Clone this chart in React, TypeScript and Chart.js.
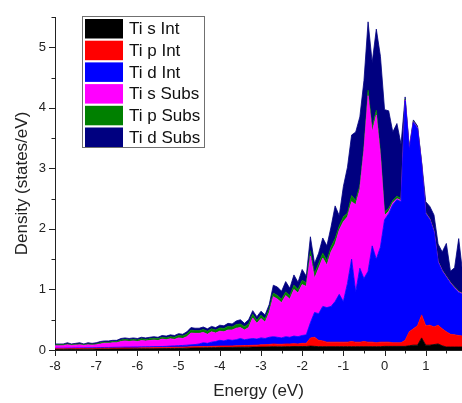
import React, { useEffect, useRef } from "react";
import { Chart, registerables } from "chart.js";

Chart.register(...registerables);

const energies = [
  -8.0, -7.9, -7.8, -7.7, -7.6, -7.5, -7.4, -7.3, -7.2, -7.1,
  -7.0, -6.9, -6.8, -6.7, -6.6, -6.5, -6.4, -6.3, -6.2, -6.1,
  -6.0, -5.9, -5.8, -5.7, -5.6, -5.5, -5.4, -5.3, -5.2, -5.1,
  -5.0, -4.9, -4.8, -4.7, -4.6, -4.5, -4.4, -4.3, -4.2, -4.1,
  -4.0, -3.9, -3.8, -3.7, -3.6, -3.5, -3.4, -3.3, -3.2, -3.1,
  -3.0, -2.9, -2.8, -2.7, -2.6, -2.5, -2.4, -2.3, -2.2, -2.1,
  -2.0, -1.9, -1.8, -1.7, -1.6, -1.5, -1.4, -1.3, -1.2, -1.1,
  -1.0, -0.9, -0.8, -0.7, -0.6, -0.5, -0.4, -0.3, -0.2, -0.1,
  0.0, 0.1, 0.2, 0.3, 0.4, 0.5, 0.6, 0.7, 0.8, 0.9,
  1.0, 1.1, 1.2, 1.3, 1.4, 1.5, 1.6, 1.7, 1.8, 1.9,
];

const tiSInt = [
  0.010, 0.010, 0.010, 0.012, 0.012, 0.012, 0.012, 0.014, 0.014, 0.014,
  0.015, 0.015, 0.016, 0.016, 0.017, 0.017, 0.018, 0.018, 0.018, 0.019,
  0.019, 0.020, 0.020, 0.020, 0.021, 0.022, 0.023, 0.024, 0.025, 0.026,
  0.027, 0.028, 0.030, 0.032, 0.034, 0.035, 0.036, 0.037, 0.038, 0.039,
  0.040, 0.041, 0.042, 0.043, 0.045, 0.046, 0.046, 0.047, 0.048, 0.048,
  0.050, 0.050, 0.052, 0.055, 0.053, 0.052, 0.055, 0.055, 0.058, 0.056,
  0.058, 0.058, 0.065, 0.060, 0.055, 0.055, 0.055, 0.055, 0.055, 0.055,
  0.055, 0.055, 0.055, 0.055, 0.055, 0.055, 0.055, 0.055, 0.055, 0.055,
  0.060, 0.060, 0.060, 0.060, 0.060, 0.060, 0.070, 0.080, 0.080, 0.200,
  0.080, 0.080, 0.090, 0.100, 0.070, 0.050, 0.050, 0.050, 0.050, 0.050,
];

const tiPInt = [
  0.010, 0.010, 0.010, 0.010, 0.010, 0.012, 0.012, 0.011, 0.012, 0.012,
  0.013, 0.013, 0.014, 0.014, 0.014, 0.015, 0.015, 0.016, 0.016, 0.016,
  0.016, 0.016, 0.017, 0.018, 0.019, 0.018, 0.018, 0.018, 0.019, 0.019,
  0.019, 0.019, 0.019, 0.020, 0.021, 0.021, 0.021, 0.021, 0.022, 0.023,
  0.025, 0.025, 0.025, 0.025, 0.025, 0.026, 0.027, 0.028, 0.030, 0.032,
  0.035, 0.038, 0.040, 0.045, 0.042, 0.043, 0.045, 0.045, 0.047, 0.044,
  0.052, 0.052, 0.135, 0.150, 0.105, 0.095, 0.075, 0.075, 0.075, 0.075,
  0.075, 0.075, 0.085, 0.075, 0.075, 0.085, 0.075, 0.075, 0.065, 0.075,
  0.070, 0.070, 0.060, 0.060, 0.060, 0.100, 0.230, 0.270, 0.320, 0.380,
  0.320, 0.330, 0.290, 0.310, 0.280, 0.250, 0.210, 0.200, 0.190, 0.180,
];

const tiDInt = [
  0.010, 0.010, 0.010, 0.010, 0.010, 0.010, 0.010, 0.010, 0.010, 0.010,
  0.010, 0.012, 0.012, 0.012, 0.013, 0.013, 0.013, 0.014, 0.014, 0.015,
  0.015, 0.016, 0.016, 0.016, 0.016, 0.016, 0.017, 0.018, 0.021, 0.023,
  0.026, 0.028, 0.031, 0.033, 0.035, 0.044, 0.063, 0.052, 0.070, 0.078,
  0.095, 0.084, 0.103, 0.092, 0.100, 0.118, 0.097, 0.105, 0.112, 0.100,
  0.115, 0.102, 0.118, 0.120, 0.115, 0.105, 0.120, 0.110, 0.125, 0.120,
  0.130, 0.140, 0.250, 0.410, 0.440, 0.570, 0.570, 0.590, 0.670, 0.790,
  0.670, 0.970, 1.360, 0.830, 1.220, 1.040, 1.170, 1.590, 1.380, 1.570,
  2.020, 2.120, 2.280, 2.360, 2.330, 3.960, 3.000, 3.410, 3.260, 2.480,
  1.850, 1.740, 1.570, 1.040, 0.950, 0.900, 0.840, 0.770, 0.710, 0.690,
];

const tiSSubs = [
  0.040, 0.040, 0.042, 0.053, 0.043, 0.046, 0.051, 0.040, 0.049, 0.044,
  0.047, 0.060, 0.068, 0.068, 0.076, 0.075, 0.094, 0.102, 0.092, 0.100,
  0.090, 0.103, 0.097, 0.101, 0.109, 0.099, 0.122, 0.110, 0.120, 0.107,
  0.128, 0.115, 0.140, 0.195, 0.185, 0.175, 0.170, 0.150, 0.170, 0.140,
  0.150, 0.150, 0.160, 0.170, 0.190, 0.180, 0.160, 0.190, 0.340, 0.260,
  0.320, 0.270, 0.410, 0.660, 0.630, 0.580, 0.680, 0.630, 0.770, 0.720,
  0.840, 0.800, 1.100, 0.560, 0.750, 0.800, 0.700, 0.900, 0.950, 1.060,
  1.320, 1.100, 0.950, 1.440, 1.300, 2.120, 2.900, 1.880, 2.380, 1.500,
  0.070, 0.040, 0.030, 0.020, 0.020, 0.010, 0.010, 0.010, 0.010, 0.010,
  0.010, 0.010, 0.010, 0.010, 0.010, 0.010, 0.010, 0.010, 0.010, 0.010,
];

const tiPSubs = [
  0.015, 0.015, 0.016, 0.015, 0.013, 0.015, 0.015, 0.013, 0.015, 0.015,
  0.015, 0.020, 0.020, 0.020, 0.020, 0.020, 0.025, 0.025, 0.025, 0.025,
  0.025, 0.030, 0.025, 0.030, 0.030, 0.030, 0.030, 0.030, 0.035, 0.035,
  0.040, 0.040, 0.045, 0.050, 0.045, 0.045, 0.050, 0.050, 0.050, 0.050,
  0.055, 0.055, 0.060, 0.050, 0.060, 0.060, 0.055, 0.060, 0.060, 0.050,
  0.055, 0.055, 0.060, 0.060, 0.060, 0.060, 0.060, 0.060, 0.070, 0.060,
  0.070, 0.060, 0.090, 0.080, 0.080, 0.080, 0.080, 0.080, 0.090, 0.070,
  0.080, 0.060, 0.100, 0.070, 0.070, 0.060, 0.090, 0.080, 0.080, 0.070,
  0.060, 0.050, 0.040, 0.040, 0.030, 0.010, 0.010, 0.010, 0.010, 0.010,
  0.010, 0.010, 0.010, 0.010, 0.010, 0.010, 0.010, 0.010, 0.010, 0.010,
];

const tiDSubs = [
  0.015, 0.015, 0.012, 0.020, 0.012, 0.015, 0.020, 0.012, 0.020, 0.015,
  0.020, 0.020, 0.020, 0.020, 0.020, 0.020, 0.025, 0.025, 0.025, 0.025,
  0.025, 0.025, 0.025, 0.025, 0.025, 0.025, 0.030, 0.030, 0.030, 0.030,
  0.030, 0.030, 0.035, 0.040, 0.040, 0.040, 0.040, 0.040, 0.040, 0.040,
  0.045, 0.045, 0.050, 0.050, 0.060, 0.070, 0.055, 0.070, 0.060, 0.060,
  0.065, 0.065, 0.070, 0.130, 0.140, 0.130, 0.170, 0.120, 0.170, 0.120,
  0.180, 0.110, 0.230, 0.170, 0.170, 0.250, 0.240, 0.330, 0.540, 0.170,
  0.500, 0.760, 1.000, 1.130, 1.130, 1.090, 1.130, 1.070, 1.340, 1.580,
  1.690, 1.610, 1.130, 1.200, 0.900, 0.040, 0.030, 0.020, 0.020, 0.020,
  0.180, 0.200, 0.260, 0.280, 0.300, 0.540, 0.180, 0.320, 0.870, 0.310,
];

const seriesNames = ["Ti s Int", "Ti p Int", "Ti d Int", "Ti s Subs", "Ti p Subs", "Ti d Subs"];
const seriesColors = ["#000000", "#ff0000", "#0000ff", "#ff00ff", "#008000", "#000080"];
const seriesValues = [tiSInt, tiPInt, tiDInt, tiSSubs, tiPSubs, tiDSubs];

const xMajorTicks = [-8, -7, -6, -5, -4, -3, -2, -1, 0, 1];
const yMajorTicks = [0, 1, 2, 3, 4, 5];

const FONT = '"Liberation Sans", Arial, Helvetica, sans-serif';
const TEXT = "#222222";

const tickPlugin = {
  id: "customTicks",
  afterDraw(chart: any) {
    const { ctx, chartArea } = chart;
    const xs = chart.scales.x;
    const ys = chart.scales.y;
    ctx.save();
    ctx.strokeStyle = "#222";
    ctx.lineWidth = 1;
    ctx.beginPath();
    xMajorTicks.forEach((v) => {
      [v, v + 0.5].forEach((t, k) => {
        if (t > xs.max) return;
        const px = Math.round(xs.getPixelForValue(t)) + 0.5;
        const len = k === 0 ? 6 : 3.5;
        ctx.moveTo(px, chartArea.bottom);
        ctx.lineTo(px, chartArea.bottom + len);
      });
    });
    yMajorTicks.forEach((v) => {
      [v, v + 0.5].forEach((t, k) => {
        if (t > ys.max) return;
        const py = Math.round(ys.getPixelForValue(t)) + 0.5;
        const len = k === 0 ? 6 : 3.5;
        ctx.moveTo(chartArea.left, py);
        ctx.lineTo(chartArea.left - len, py);
      });
    });
    ctx.stroke();

    // legend box
    const lx = 82.5, ly = 16.5, lw = 122, lh = 131;
    ctx.fillStyle = "#ffffff";
    ctx.fillRect(lx, ly, lw, lh);
    ctx.strokeStyle = "#707070";
    ctx.strokeRect(lx, ly, lw, lh);
    ctx.font = `17px ${FONT}`;
    ctx.textBaseline = "middle";
    ctx.textAlign = "left";
    chart.data.datasets.forEach((ds: any, i: number) => {
      const top = 19 + i * 21.7;
      ctx.fillStyle = ds.backgroundColor;
      ctx.fillRect(85, top, 38, 19.5);
      ctx.fillStyle = "#111";
      ctx.fillText(ds.label, 129, top + 10.5);
    });
    ctx.restore();
  },
};

export default function App() {
  const ref = useRef<HTMLCanvasElement | null>(null);

  useEffect(() => {
    if (!ref.current) return;
    const datasets = seriesValues.map((vals, i) => ({
      label: seriesNames[i],
      data: energies.map((e, j) => ({ x: e, y: vals[j] })),
      backgroundColor: seriesColors[i],
      borderColor: seriesColors[i],
      borderWidth: 0.8,
      pointRadius: 0,
      tension: 0,
      fill: i === 0 ? "origin" : "-1",
    }));

    const chart = new Chart(ref.current, {
      type: "line",
      data: { datasets },
      options: {
        animation: false,
        responsive: false,
        devicePixelRatio: 1,
        events: [],
        layout: { padding: { top: 17, right: 0, left: 0, bottom: 0 } },
        plugins: {
          legend: { display: false },
          tooltip: { enabled: false },
        },
        scales: {
          x: {
            type: "linear",
            min: -8,
            max: 1.88,
            afterBuildTicks: (s: any) => {
              s.ticks = xMajorTicks.map((v) => ({ value: v }));
            },
            afterFit: (s: any) => {
              s.height = 53;
            },
            grid: { display: false, drawTicks: false },
            border: { display: true, color: "#222", width: 1 },
            ticks: {
              autoSkip: false,
              maxRotation: 0,
              padding: 9,
              color: TEXT,
              font: { family: FONT, size: 13 },
              callback: (v: any) => String(v),
            },
            title: {
              display: true,
              text: "Energy (eV)",
              color: TEXT,
              font: { family: FONT, size: 17 },
              padding: { top: 0, bottom: 1 },
            },
          },
          y: {
            stacked: true,
            min: 0,
            max: 5.5,
            afterBuildTicks: (s: any) => {
              s.ticks = yMajorTicks.map((v) => ({ value: v }));
            },
            afterFit: (s: any) => {
              s.width = 55;
            },
            grid: { display: false, drawTicks: false },
            border: { display: true, color: "#222", width: 1 },
            ticks: {
              autoSkip: false,
              padding: 9,
              color: TEXT,
              font: { family: FONT, size: 13 },
              callback: (v: any) => String(v),
            },
            title: {
              display: true,
              text: "Density (states/eV)",
              color: TEXT,
              font: { family: FONT, size: 17 },
              padding: { top: 12, bottom: 0 },
            },
          },
        },
      } as any,
      plugins: [tickPlugin],
    });
    return () => chart.destroy();
  }, []);

  return (
    <div style={{ position: "fixed", left: 0, top: 0, width: 462, height: 403, background: "#fff" }}>
      <canvas ref={ref} width={462} height={403} style={{ display: "block" }} />
    </div>
  );
}
